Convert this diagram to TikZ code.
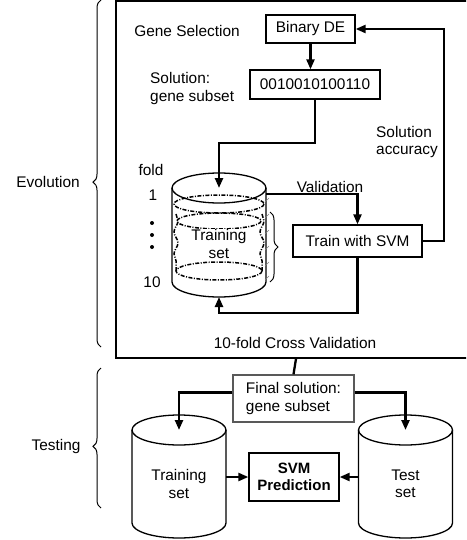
\documentclass[tikz,border=0pt]{standalone}
\usepackage{fontspec}
\setmainfont{Liberation Sans}
\usetikzlibrary{arrows.meta,decorations.pathreplacing,decorations.pathmorphing}

% vertical storage drum: centre x, y of top ellipse, y of bottom ellipse
\newcommand\drum[3]{%
  \draw[drumline] (#1-47,#2) -- (#1-47,#3)
    arc[start angle=180,end angle=0,x radius=47,y radius=15] -- (#1+47,#2);
  \draw[drumline] (#1,#2) ellipse[x radius=47,y radius=15];}

\begin{document}
\begin{tikzpicture}[x=1pt,y=-1pt,
  font=\fontsize{15.4}{17.5}\selectfont,
  box/.style={draw,line width=1.3pt,inner sep=0pt},
  lbl/.style={inner sep=0pt},
  conn/.style={line width=2.3pt,-{Triangle[length=10pt,width=8pt]}},
  wire/.style={line width=2.3pt},
  drumline/.style={line width=1.3pt},
  foldline/.style={line width=1.5pt,dash pattern=on 4pt off 1.5pt on 1pt off 1.5pt},
  bracket/.style={line width=1pt,decorate,decoration={brace,amplitude=#1}},
  bracket/.default=8pt]

\clip (0,0) rectangle (466,540);

% ---------- evolution frame ----------
\node[draw,line width=1.5pt,minimum width=360pt,minimum height=357pt,inner sep=0pt]
  (evo) at (296,179.5) {};

\node[lbl] (genesel) at (187,31) {Gene Selection};
\node[box,minimum width=89pt,minimum height=28pt] (binde) at (310.5,29) {Binary DE};
\node[box,minimum width=130pt,minimum height=29pt] (sol) at (315,84.5) {0010010100110};
\node[lbl,anchor=west,align=left] (soltxt) at (150,88.5) {Solution:\\gene subset};
\node[lbl,anchor=west,align=left] (acc) at (376,142) {Solution\\accuracy};
\node[box,minimum width=129pt,minimum height=32pt] (train) at (357.5,241) {Train with SVM};

% cross-validation drum with its folds
\drum{219}{188}{282}
\draw[foldline] (219,204) ellipse[x radius=45,y radius=9];
\draw[foldline] (219,221) ellipse[x radius=42,y radius=8];
\draw[foldline] (219,271) ellipse[x radius=43,y radius=9];
\draw[foldline,decorate,decoration={snake,segment length=22pt,amplitude=2pt}]
  (176,214) -- (176,271);
\draw[foldline,decorate,decoration={snake,segment length=22pt,amplitude=2pt}]
  (262,214) -- (262,271);
\foreach \ty in {200,216,232,248,264,278}
  \draw[gray,line width=0.6pt] (265,\ty+2) -- (269,\ty-2);
\node[lbl,fill=white,inner sep=1pt,align=center] (tset1) at (219,244) {Training\\set};
\draw[bracket=8pt] (270,212) -- (270,282);

\coordinate (c1top) at (219,188);
\coordinate (c1val) at (266,194);
\coordinate (c1bot) at (219,297);
\coordinate (jog) at (219,143);
\coordinate (cvloop) at (219,313);

\node[lbl] (fold) at (151,170) {fold};
\node[lbl] (f1) at (153,195) {1};
\node[lbl] (f10) at (152,282) {10};
\foreach \dy in {223,235,247}
  \fill (152,\dy) circle[radius=2];

\node[lbl] (valtxt) at (330,187) {Validation};
\node[lbl] (cvtxt) at (295,343) {10-fold Cross Validation};

% evolution connectors
\draw[conn] (binde.south) -- (binde.south |- sol.north);
\draw[conn] (sol.south) |- (jog) -- (c1top);
\draw[conn] (c1val) -| (train.north);
\draw[conn] (train.east) -- ++(21,0) |- (binde.east);
\draw[conn] (train.south) |- (cvloop) -- (c1bot);

% ---------- testing stage ----------
\node[draw=black!65,line width=1.3pt,minimum width=121pt,minimum height=47pt,
  inner sep=0pt,align=left] (final) at (293.5,398.5) {Final solution:\\gene subset};
\node[box,minimum width=90pt,minimum height=48pt,align=center,font=\fontsize{15}{17.5}\selectfont\bfseries]
  (pred) at (294,477) {SVM\\Prediction};

\drum{179}{430}{523}
\drum{405.5}{430}{523}
\node[lbl,align=center] (tset2) at (179,484) {Training\\set};
\node[lbl,align=center] (test) at (405.5,484) {Test\\set};

\coordinate (c2top) at (179,430);
\coordinate (c3top) at (405.5,430);
\coordinate (c2r) at (226,477);
\coordinate (c3l) at (358.5,477);

\draw[wire] (evo.south) -- (final.north);
\draw[conn] ([yshift=6pt]final.west) -| (c2top);
\draw[conn] ([yshift=6pt]final.east) -| (c3top);
\draw[conn] (c2r) -- (pred.west);
\draw[conn] (c3l) -- (pred.east);

% ---------- stage braces ----------
\draw[bracket=8pt,decoration={aspect=0.475}] (101,347) -- (101,0);
\draw[bracket=8pt,decoration={aspect=0.44}] (101,508) -- (101,368);
\node[lbl] (evolbl) at (48,182) {Evolution};
\node[lbl] (testlbl) at (56,447) {Testing};
\end{tikzpicture}
\end{document}
